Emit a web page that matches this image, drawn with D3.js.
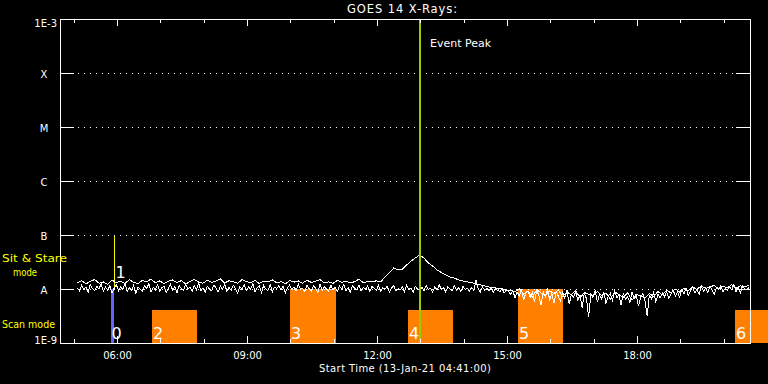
<!DOCTYPE html>
<html><head><meta charset="utf-8">
<script src="https://cdn.jsdelivr.net/npm/d3@7"></script>
<style>
html,body{margin:0;padding:0;background:#000;}
svg{display:block;background:#000;}
text{font-family:"DejaVu Sans",sans-serif;}
</style></head><body>
<svg id="chart" width="768" height="384"></svg>
<script>
// ---------- data ----------
const chartTitle = "GOES 14 X-Rays:";
const xAxisTitle = "Start Time (13-Jan-21 04:41:00)";
const obsDate = "2021-01-13";
const timeDomain = ["04:41:00", "20:36:24"];
const yTickValues = [1e-3, 1e-4, 1e-5, 1e-6, 1e-7, 1e-8, 1e-9];
const yTickLabels = ["1E-3", "X", "M", "C", "B", "A", "1E-9"];
const xMajorTickLabels = ["06:00", "09:00", "12:00", "15:00", "18:00"];
const xMinorTickLabels = ["05:00","06:00","07:00","08:00","09:00","10:00","11:00","12:00","13:00","14:00","15:00","16:00","17:00","18:00","19:00","20:00"];

const fluxUnit = 1e-8; // values below are in A-class multiples (1 = 1e-8 W/m^2)

// smoother channel with the flare, one sample every 6 minutes from 05:05
const flareStart = "05:05:00";
const flareStepMinutes = 6;
const seriesFlare = [
  1.30,1.42,1.25,1.38,1.50,1.28,1.35,1.22,1.45,1.32,
  1.40,1.27,1.48,1.33,1.25,1.44,1.36,1.52,1.30,1.41,
  1.26,1.39,1.47,1.31,1.43,1.24,1.37,1.50,1.34,1.28,
  1.46,1.33,1.40,1.55,1.29,1.42,1.36,1.27,1.49,1.38,
  1.31,1.44,1.26,1.40,1.35,1.48,1.30,1.37,1.25,1.43,
  1.34,1.41,1.28,1.46,1.32,1.39,1.50,1.30,1.36,1.27,
  1.44,1.33,1.40,1.29,1.37,1.52,1.31,1.38,1.35,1.42,
  1.35,1.67,1.98,2.45,2.25,2.34,2.78,3.30,3.75,4.26,
  3.75,3.03,2.67,2.25,2.02,1.82,1.67,1.60,1.47,1.41,
  1.35,1.32,1.24,1.19,1.14,1.09,1.07,1.02,1.00,0.96,
  0.95,0.88,1.02,0.80,0.92,0.70,0.98,0.85,0.75,0.93,
  0.82,0.97,0.72,0.88,0.78,0.95,0.68,0.86,0.80,0.74,
  0.90,0.76,0.84,0.65,0.88,0.79,0.70,0.85,0.62,0.80,
  0.74,0.68,0.83,0.72,0.90,0.78,0.95,0.84,1.00,0.88,
  1.05,0.92,1.10,0.98,1.15,1.02,1.08,1.18,0.99,1.12,
  1.06,1.20,1.03,1.14,1.09,1.17
];

// noisy channel, one sample every 3 minutes from 05:05
const noisyStart = "05:05:00";
const noisyStepMinutes = 3;
const seriesNoisy = [
  1.05,0.92,1.18,0.97,1.10,0.86,1.22,1.01,0.94,1.12,
  0.99,1.27,0.90,1.08,0.95,1.15,0.84,1.04,1.20,0.93,
  1.11,0.98,1.30,0.89,1.06,0.96,1.17,0.82,1.09,1.00,
  0.91,1.14,1.03,1.25,0.88,1.07,0.97,1.19,0.92,1.05,
  1.13,0.87,1.02,1.21,0.95,1.10,0.85,1.16,1.01,0.94,
  1.23,0.99,1.08,0.90,1.15,0.96,1.28,0.93,1.04,0.86,
  1.12,1.00,0.92,1.18,1.06,0.88,1.14,0.98,1.24,0.91,
  1.07,0.95,1.17,1.02,0.84,1.11,0.97,1.20,0.93,1.09,
  0.99,1.26,0.90,1.05,1.13,0.87,1.16,1.00,0.94,1.21,
  0.89,1.08,1.02,1.15,0.96,1.12,0.85,1.06,1.19,0.97,
  1.10,0.93,1.22,0.98,1.04,0.88,1.17,1.01,0.92,1.14,
  1.03,0.86,1.25,0.95,1.09,1.00,0.91,1.18,0.97,1.07,
  0.90,1.13,0.99,1.21,0.94,1.05,0.87,1.16,1.02,0.96,
  1.20,0.92,1.08,0.98,1.14,0.89,1.11,1.03,0.95,1.17,
  0.91,1.06,0.99,1.12,0.88,1.04,1.15,0.93,1.01,0.96,
  1.10,0.90,1.18,0.97,1.05,0.86,1.13,1.00,0.94,1.08,
  0.92,1.16,0.98,1.03,0.87,1.11,0.95,1.20,0.99,1.06,
  0.89,1.09,1.01,0.93,1.14,0.96,1.05,0.90,1.12,0.98,
  1.03,0.91,1.07,0.95,1.45,1.00,0.88,1.10,0.94,1.04,
  0.92,1.06,0.86,1.01,0.95,0.89,1.03,0.84,0.97,0.90,
  0.80,0.95,0.68,0.88,0.74,0.99,0.62,0.85,0.92,0.70,
  0.87,0.58,0.94,0.76,0.50,0.89,0.72,0.97,0.64,0.82,
  0.55,0.90,0.74,0.60,0.86,0.68,0.95,0.52,0.79,0.71,
  0.88,0.62,0.76,0.45,0.84,0.66,0.30,0.80,0.70,0.92,
  0.58,0.78,0.66,0.89,0.54,0.74,0.83,0.61,0.92,0.69,
  0.77,0.50,0.85,0.64,0.72,0.56,0.88,0.67,0.75,0.48,
  0.70,0.82,0.60,0.32,0.76,0.65,0.86,0.58,0.79,0.68,
  0.84,0.72,0.90,0.66,0.81,0.95,0.74,0.88,0.70,0.98,
  0.82,1.02,0.76,0.93,1.08,0.85,0.97,0.79,1.12,0.90,
  1.04,0.86,1.15,0.95,0.81,1.07,0.99,1.18,0.88,1.02,
  0.94,1.10,0.97,1.21,0.90,1.05,0.85,1.13,1.00,0.96,
  1.08
];

const eventPeakTime = "12:59:30";
const eventPeakLabel = "Event Peak";
const sitStareLabel = "1";
const sitStareTime = "05:56:30";
const sitStareRange = [1e-8, 1e-7];
const scanLabel = "0";
const scanStart = "05:51:36";
const scanEnd = "05:55:48";
const scanTop = 1e-8;
const rasterLabels = ["2", "3", "4", "5", "6"];
const rasterStarts = ["06:48:24", "09:59:30", "12:42:48", "15:15:12", "20:15:36"];
const rasterEnds   = ["07:50:42", "11:02:42", "13:44:42", "16:17:00", "21:17:00"];
const rasterTops   = [4.1e-9, 1e-8, 4.1e-9, 1e-8, 4.1e-9];
const modeLegend = ["Sit & Stare", "mode", "Scan mode"];

// ---------- chart ----------
const parseT = s => new Date(`${obsDate}T${s}`);
const svg = d3.select("#chart");
const L = 60, R = 750, T = 19, B = 343;
const x = d3.scaleTime().domain(timeDomain.map(parseT)).range([L, R]);
const y = d3.scaleLog().domain([1e-9, 1e-3]).range([B, T]);

// raster (orange) blocks
svg.append("g").selectAll("rect").data(rasterLabels).join("rect")
  .attr("x", (d, i) => x(parseT(rasterStarts[i])))
  .attr("width", (d, i) => x(parseT(rasterEnds[i])) - x(parseT(rasterStarts[i])))
  .attr("y", (d, i) => y(rasterTops[i]))
  .attr("height", (d, i) => y(1e-9) - y(rasterTops[i]))
  .attr("fill", "#ff8000").attr("shape-rendering", "crispEdges");

// scan bar (blue)
svg.append("rect")
  .attr("x", x(parseT(scanStart)))
  .attr("width", x(parseT(scanEnd)) - x(parseT(scanStart)))
  .attr("y", y(scanTop)).attr("height", y(1e-9) - y(scanTop))
  .attr("fill", "#6464ff").attr("shape-rendering", "crispEdges");

// sit & stare line (yellow)
svg.append("line")
  .attr("x1", Math.floor(x(parseT(sitStareTime))) + 0.5)
  .attr("x2", Math.floor(x(parseT(sitStareTime))) + 0.5)
  .attr("y1", y(sitStareRange[1])).attr("y2", y(sitStareRange[0]))
  .attr("stroke", "#ffff00").attr("stroke-width", 1).attr("shape-rendering", "crispEdges");

// grid (dotted) at interior decades
const inner = yTickValues.slice(1, -1);
svg.append("g").selectAll("line").data(inner).join("line")
  .attr("x1", 78).attr("x2", 736)
  .attr("y1", d => Math.round(y(d)) + 0.5).attr("y2", d => Math.round(y(d)) + 0.5)
  .attr("stroke", "#fff").attr("stroke-dasharray", "1,5").attr("shape-rendering", "crispEdges");

// data lines
function drawSeries(values, start, step) {
  const t = i => d3.timeMinute.offset(parseT(start), i * step);
  const line = d3.line().x((d, i) => x(t(i))).y(d => y(d * fluxUnit));
  svg.append("path").datum(values).attr("d", line)
    .attr("fill", "none").attr("stroke", "#fff").attr("stroke-width", 1)
    .attr("shape-rendering", "crispEdges");
}
drawSeries(seriesNoisy, noisyStart, noisyStepMinutes);
drawSeries(seriesFlare, flareStart, flareStepMinutes);

// event peak line
const xp = x(parseT(eventPeakTime));
svg.append("line").attr("x1", xp).attr("x2", xp).attr("y1", T).attr("y2", B)
  .attr("stroke", "#99cc00").attr("stroke-width", 2).attr("shape-rendering", "crispEdges");
svg.append("text").attr("x", xp + 10).attr("y", 47).attr("fill", "#fff")
  .attr("font-size", 11).text(eventPeakLabel);

// frame
svg.append("rect").attr("x", L + 0.5).attr("y", T + 0.5).attr("width", R - L).attr("height", B - T)
  .attr("fill", "none").attr("stroke", "#fff").attr("shape-rendering", "crispEdges");

// axes
function styleAxis(g) {
  g.select(".domain").remove();
  g.attr("color", "#fff").attr("font-family", "DejaVu Sans, sans-serif").attr("font-size", 10);
  g.selectAll("line").attr("shape-rendering", "crispEdges");
}
const minorVals = xMinorTickLabels.map(s => parseT(s + ":00"));
const majorVals = xMajorTickLabels.map(s => parseT(s + ":00"));
svg.append("g").attr("transform", `translate(0,${B})`)
  .call(d3.axisBottom(x).tickValues(minorVals).tickSize(-4).tickFormat("")).call(styleAxis);
svg.append("g").attr("transform", `translate(0,${B})`)
  .call(d3.axisBottom(x).tickValues(majorVals).tickSize(-7).tickPadding(9)
    .tickFormat((d, i) => xMajorTickLabels[i])).call(styleAxis);
svg.append("g").attr("transform", `translate(0,${T})`)
  .call(d3.axisTop(x).tickValues(minorVals).tickSize(-4).tickFormat("")).call(styleAxis);
svg.append("g").attr("transform", `translate(0,${T})`)
  .call(d3.axisTop(x).tickValues(majorVals).tickSize(-7).tickFormat("")).call(styleAxis);

const yl = svg.append("g").attr("transform", `translate(${L},0)`)
  .call(d3.axisLeft(y).tickValues(yTickValues).tickSize(-14).tickPadding(3)
    .tickFormat((d, i) => yTickLabels[i])).call(styleAxis);
yl.selectAll("text").each(function(d, i) {
  const t = d3.select(this);
  if (i === 0) t.attr("dy", "7.6px");
  else if (i === yTickValues.length - 1) t.attr("dy", "0px");
  else t.attr("dy", "4.5px").attr("text-anchor", "middle").attr("x", -16);
});
svg.append("g").attr("transform", `translate(${R},0)`)
  .call(d3.axisRight(y).tickValues(inner).tickSize(-14).tickFormat("")).call(styleAxis);

// titles
svg.append("text").attr("x", 347).attr("y", 13).attr("fill", "#fff").attr("font-size", 11.5)
  .attr("textLength", 110).attr("lengthAdjust", "spacing").text(chartTitle);
svg.append("text").attr("x", 319).attr("y", 371.5).attr("fill", "#fff").attr("font-size", 10)
  .attr("textLength", 172).attr("lengthAdjust", "spacing").text(xAxisTitle);

// mode legend
svg.append("text").attr("x", 2).attr("y", 262).attr("fill", "#ffff00").attr("font-size", 11)
  .attr("textLength", 65).attr("lengthAdjust", "spacingAndGlyphs").text(modeLegend[0]);
svg.append("text").attr("x", 13).attr("y", 275.5).attr("fill", "#ffff00").attr("font-size", 11)
  .attr("textLength", 24).attr("lengthAdjust", "spacingAndGlyphs").text(modeLegend[1]);
svg.append("text").attr("x", 2).attr("y", 327.5).attr("fill", "#ffff00").attr("font-size", 11)
  .attr("textLength", 53).attr("lengthAdjust", "spacingAndGlyphs").text(modeLegend[2]);

// block labels
const numFont = "Liberation Sans, Arial, sans-serif";
svg.append("g").selectAll("text").data(rasterLabels).join("text")
  .attr("x", (d, i) => x(parseT(rasterStarts[i])) + 1).attr("y", 339)
  .attr("fill", "#fff").attr("font-family", numFont).attr("font-size", 16).text(d => d);
svg.append("text").attr("x", x(parseT(scanStart)) + 0.5).attr("y", 339)
  .attr("fill", "#fff").attr("font-family", numFont).attr("font-size", 16).text(scanLabel);
svg.append("text").attr("x", x(parseT(sitStareTime)) + 1).attr("y", 278)
  .attr("fill", "#fff").attr("font-family", numFont).attr("font-size", 16).text(sitStareLabel);
</script>
</body></html>
